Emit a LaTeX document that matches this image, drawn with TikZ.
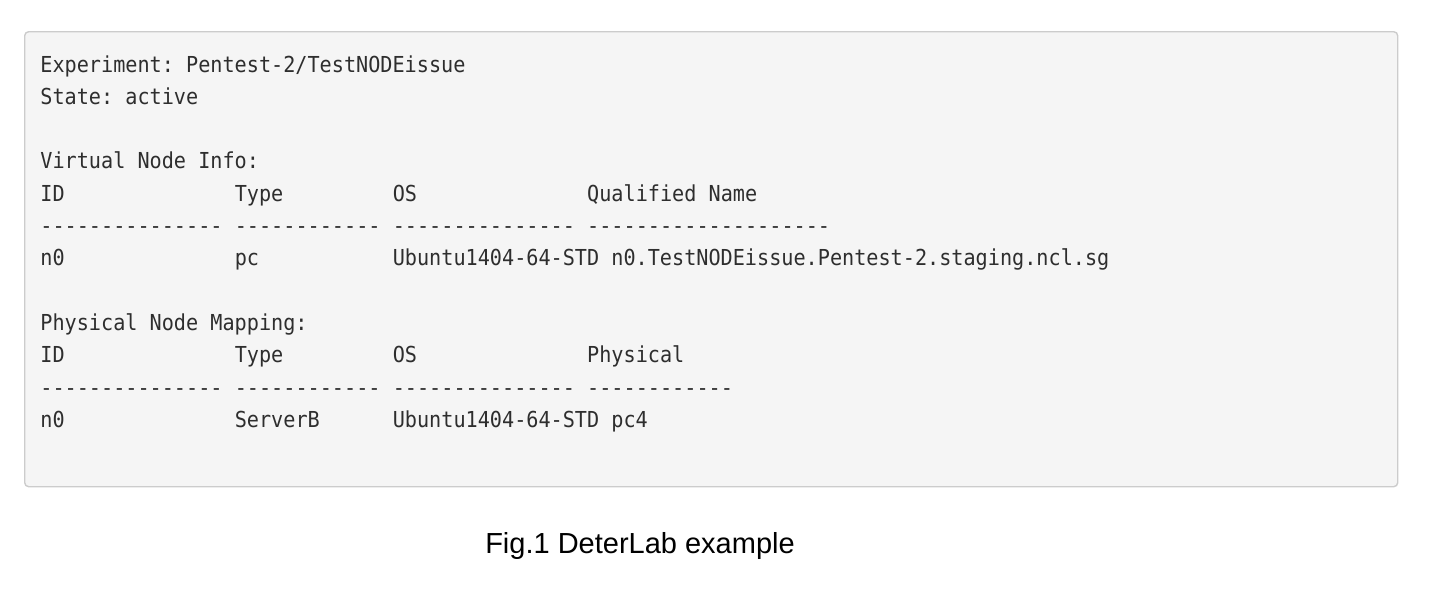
\documentclass[tikz,border=0pt]{standalone}
\usepackage{fontspec}
\setmainfont{Liberation Sans}
\setmonofont{DejaVu Sans Mono}[FakeStretch=0.917]
\definecolor{boxfill}{HTML}{F5F5F5}
\definecolor{boxline}{HTML}{CCCCCC}
\definecolor{codetext}{HTML}{2E2E2E}
\begin{document}
\begin{tikzpicture}[x=0.5pt,y=-0.5pt,
  code/.style={anchor=base west,inner sep=0pt,text=codetext,font=\ttfamily\fontsize{11pt}{13pt}\selectfont},
  caption/.style={anchor=base,inner sep=0pt,text=black,font=\fontsize{14.5pt}{17pt}\selectfont}]
\useasboundingbox (0,0) rectangle (1434,600);
\node[draw=boxline,fill=boxfill,line width=0.7pt,rounded corners=2pt,minimum width=686.5pt,minimum height=227.5pt,inner sep=0pt,anchor=north west] (box) at (24,31) {};
% rows
\node[code] (l1) at (40,72) {Experiment: Pentest-2/TestNODEissue};
\node[code] (l2) at (40,104.3) {State: active};
\node[code] (l4) at (40,168.9) {Virtual Node Info:};
\node[code] (h1a) at (40,201.2) {ID};
\node[code] (h1b) at (234.4,201.2) {Type};
\node[code] (h1c) at (392.4,201.2) {OS};
\node[code] (h1d) at (586.8,201.2) {Qualified Name};
\node[code] (d1a) at (40,233.5) {---------------};
\node[code] (d1b) at (234.4,233.5) {------------};
\node[code] (d1c) at (392.4,233.5) {---------------};
\node[code] (d1d) at (586.8,233.5) {--------------------};
\node[code] (r1a) at (40,265.8) {n0};
\node[code] (r1b) at (234.4,265.8) {pc};
\node[code] (r1c) at (392.4,265.8) {Ubuntu1404-64-STD n0.TestNODEissue.Pentest-2.staging.ncl.sg};
\node[code] (l9) at (40,330.4) {Physical Node Mapping:};
\node[code] (h2a) at (40,362.7) {ID};
\node[code] (h2b) at (234.4,362.7) {Type};
\node[code] (h2c) at (392.4,362.7) {OS};
\node[code] (h2d) at (586.8,362.7) {Physical};
\node[code] (d2a) at (40,395) {---------------};
\node[code] (d2b) at (234.4,395) {------------};
\node[code] (d2c) at (392.4,395) {---------------};
\node[code] (d2d) at (586.8,395) {------------};
\node[code] (r2a) at (40,427.3) {n0};
\node[code] (r2b) at (234.4,427.3) {ServerB};
\node[code] (r2c) at (392.4,427.3) {Ubuntu1404-64-STD pc4};
\node[caption] (cap) at (640,553) {Fig.1 DeterLab example};
\end{tikzpicture}
\end{document}
